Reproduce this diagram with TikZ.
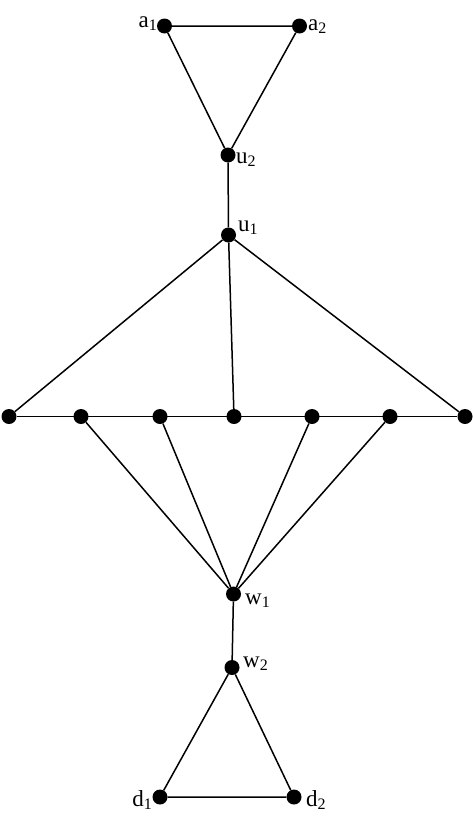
\documentclass[tikz,border=0pt]{standalone}
\usepackage{fontspec}
\setmainfont{Liberation Serif}
\newcommand{\lab}[2]{#1\raisebox{-0.3ex}{\fontsize{16}{16}\selectfont #2}}
\tikzset{
  vtx/.style={circle,fill=black,inner sep=0pt,minimum size=15pt},
  edge/.style={line width=1.5pt},
  lbl/.style={font=\fontsize{23}{23}\selectfont,inner sep=0pt}
}
\begin{document}
\begin{tikzpicture}[x=1pt,y=-1pt]
\useasboundingbox (0,0) rectangle (473,819);
\node[vtx] (a1) at (164.5,26) {};
\node[vtx] (a2) at (299.5,26) {};
\node[vtx] (u2) at (228,155) {};
\node[vtx] (u1) at (228.5,235) {};
\node[vtx] (r1) at (9,416.5) {};
\node[vtx] (r2) at (81,416.5) {};
\node[vtx] (r3) at (160,416.5) {};
\node[vtx] (r4) at (234,416.5) {};
\node[vtx] (r5) at (312,416.5) {};
\node[vtx] (r6) at (390,416.5) {};
\node[vtx] (r7) at (465,416.5) {};
\node[vtx] (w1) at (233.5,594) {};
\node[vtx] (w2) at (232,667.5) {};
\node[vtx] (d1) at (160,797) {};
\node[vtx] (d2) at (294,797) {};
\draw[edge] (a1) -- (a2) -- (u2) -- (a1);
\draw[edge] (u2) -- (u1);
\draw[edge] (u1) -- (r1);
\draw[edge] (u1) -- (r4);
\draw[edge] (u1) -- (r7);
\draw[edge] (r1) -- (r7);
\draw[edge] (r2) -- (w1);
\draw[edge] (r3) -- (w1);
\draw[edge] (r5) -- (w1);
\draw[edge] (r6) -- (w1);
\draw[edge] (w1) -- (w2);
\draw[edge] (w2) -- (d1) -- (d2) -- (w2);
\node[lbl,anchor=east] (la1) at (157,24) {\lab{a}{1}};
\node[lbl,anchor=west] (la2) at (308,27) {\lab{a}{2}};
\node[lbl,anchor=west] (lu2) at (236,160) {\lab{u}{2}};
\node[lbl,anchor=west] (lu1) at (238,228) {\lab{u}{1}};
\node[lbl,anchor=west] (lw1) at (245,601) {\lab{w}{1}};
\node[lbl,anchor=west] (lw2) at (243,664) {\lab{w}{2}};
\node[lbl,anchor=east] (ld1) at (152,800) {\lab{d}{1}};
\node[lbl,anchor=west] (ld2) at (306,800) {\lab{d}{2}};
\end{tikzpicture}
\end{document}
